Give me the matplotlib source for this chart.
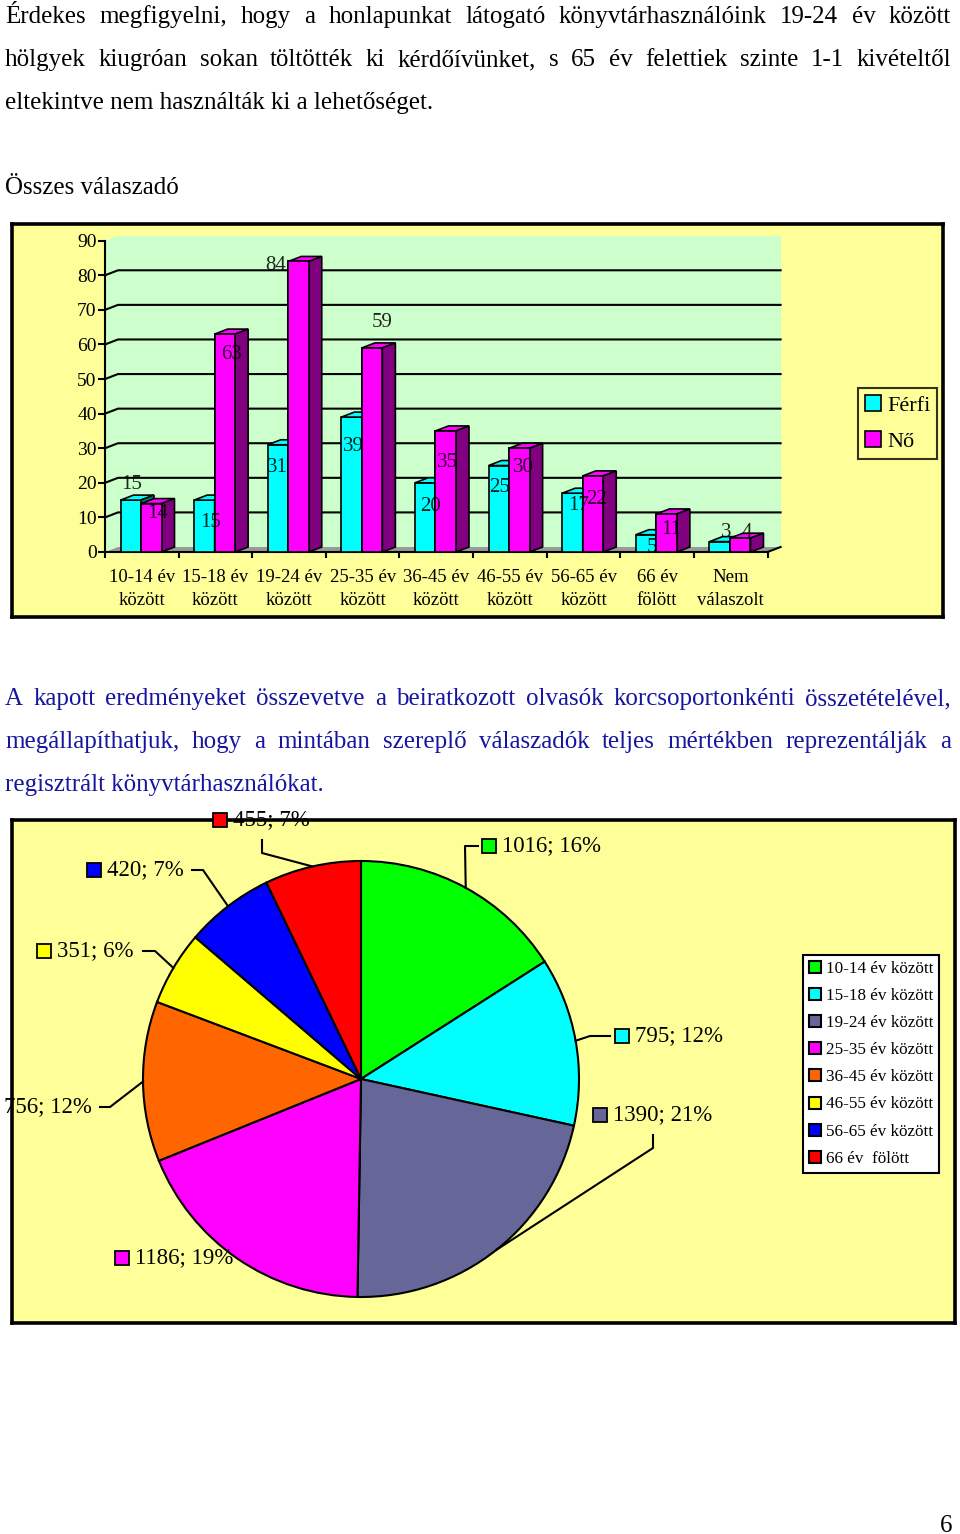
import numpy as np
import matplotlib
matplotlib.use('Agg')
import matplotlib.pyplot as plt
from matplotlib.patches import Polygon, Rectangle

# page size in pixels
W, H = 960, 1534
SERIF = 'Liberation Serif'
plt.rcParams['font.family'] = [SERIF, 'DejaVu Serif']

# ---- data ----
age_groups = ['10-14 év\nközött', '15-18 év\nközött', '19-24 év\nközött', '25-35 év\nközött',
              '36-45 év\nközött', '46-55 év\nközött', '56-65 év\nközött', '66 év\nfölött',
              'Nem\nválaszolt']
ferfi = [15, 15, 31, 39, 20, 25, 17, 5, 3]
no = [14, 63, 84, 59, 35, 30, 22, 11, 4]

pie_labels = ['10-14 év között', '15-18 év között', '19-24 év között', '25-35 év között',
              '36-45 év között', '46-55 év között', '56-65 év között', '66 év  fölött']
pie_values = [1016, 795, 1390, 1186, 756, 351, 420, 455]
pie_pct = [16, 12, 21, 19, 12, 6, 7, 7]
pie_colors = ['#00FF00', '#00FFFF', '#666699', '#FF00FF', '#FF6600', '#FFFF00', '#0000FF', '#FF0000']

para1 = ["Érdekes megfigyelni, hogy a honlapunkat látogató könyvtárhasználóink 19-24 év között",
         "hölgyek kiugróan sokan töltötték ki kérdőívünket, s 65 év felettiek szinte 1-1 kivételtől",
         "eltekintve nem használták ki a lehetőséget."]
para2 = ["A kapott eredményeket összevetve a beiratkozott olvasók korcsoportonkénti összetételével,",
         "megállapíthatjuk, hogy a mintában szereplő válaszadók teljes mértékben reprezentálják a",
         "regisztrált könyvtárhasználókat."]

# label offsets (pixels from bar top centre), copied from the layout of the original
f_off = [(1, -16), (6, 22), (-1, 23), (2, 29), (5, 24), (1, 22), (6, 12), (6, 13), (6, -9)]
n_off = [(6, 10), (7, 20), (-23, 4), (10, -25), (2, 32), (4, 19), (4, 24), (5, 16), (7, -6)]


def fx(x):
    return x / W


def fy(y):
    return 1 - y / H


fig = plt.figure(figsize=(W / 100, H / 100), dpi=100)
fig.patch.set_facecolor('white')
renderer = fig.canvas.get_renderer()


def justified(lines, x0, x1, y0, step, color, size=18):
    for k, line in enumerate(lines):
        yb = fy(y0 + k * step)
        words = line.split(' ')
        last = k == len(lines) - 1
        if last:
            fig.text(fx(x0), yb, line, fontsize=size, color=color, va='baseline')
            continue
        objs = [fig.text(0, yb, w, fontsize=size, color=color, va='baseline') for w in words]
        widths = [o.get_window_extent(renderer).width for o in objs]
        gap = (x1 - x0 - sum(widths)) / (len(words) - 1)
        x = x0
        for o, wd in zip(objs, widths):
            o.set_x(fx(x))
            x += wd + gap


justified(para1, 5, 951, 23, 43, 'black')
fig.text(fx(5), fy(194), 'Összes válaszadó', fontsize=18, va='baseline')
justified(para2, 5, 951, 705, 43, '#1515A0')
fig.text(fx(952), fy(1532), '6', fontsize=18, va='baseline', ha='right')


def frame(x0, y0, x1, y1):
    a = fig.add_axes([fx(x0), fy(y1), (x1 - x0) / W, (y1 - y0) / H], zorder=0)
    a.set_facecolor('#FFFF99')
    a.set_xticks([])
    a.set_yticks([])
    for s in a.spines.values():
        s.set_linewidth(2.6)
    return a


# ---- 3D-like clustered column chart ----
frame(12, 224, 943, 617)
ax = fig.add_axes([fx(105), fy(552), (767.6 - 105) / W, (552 - 240.7) / H], zorder=1)
ax.set_facecolor('none')
ax.set_xlim(0, 9)
ax.set_ylim(0, 90)
upx = 9 / (767.6 - 105)     # data units per pixel, x
upy = 90 / (552 - 240.7)    # data units per pixel, y
DX, DY = 13 * upx, 5 * upy

ax.add_patch(Polygon([(DX, DY), (9 + DX, DY), (9 + DX, 90 + DY), (DX, 90 + DY)],
                     closed=True, fc='#CCFFCC', ec='none', zorder=0, clip_on=False))
ax.add_patch(Polygon([(0, 0), (DX, DY), (DX, 90 + DY), (0, 90)],
                     closed=True, fc='#CCFFCC', ec='none', zorder=0, clip_on=False))
ax.add_patch(Polygon([(0, 0), (9, 0), (9 + DX, DY), (DX, DY)],
                     closed=True, fc='#999999', ec='none', zorder=1, clip_on=False))
ax.plot([9, 9 + DX], [0, DY], color='black', lw=1.5, clip_on=False, zorder=2)
for v in range(10, 90, 10):
    ax.plot([0, DX, 9 + DX], [v, v + DY, v + DY], color='black', lw=1.5, clip_on=False, zorder=1)

x = np.arange(len(age_groups))
bw = 20.5 * upx
off = 15.5 * upx
series = [(ferfi, off, '#00FFFF', '#00FFFF', '#008080', f_off),
          (no, off + bw, '#FF00FF', '#FF00FF', '#800080', n_off)]
handles = []
for vals, o, front, top, side, loffs in series:
    b = ax.bar(x + o, vals, bw, align='edge', color=front, edgecolor='black', lw=1.2, zorder=3)
    handles.append(b)
for i in range(len(x)):
    for vals, o, front, top, side, loffs in series:
        x0 = x[i] + o
        v = vals[i]
        ax.add_patch(Polygon([(x0, v), (x0 + bw, v), (x0 + bw + DX, v + DY), (x0 + DX, v + DY)],
                             closed=True, fc=top, ec='black', lw=1.2, zorder=4, clip_on=False))
        ax.add_patch(Polygon([(x0 + bw, 0), (x0 + bw + DX, DY), (x0 + bw + DX, v + DY), (x0 + bw, v)],
                             closed=True, fc=side, ec='black', lw=1.2, zorder=4, clip_on=False))
    # redraw the women's front over the men's side face
    ax.add_patch(Rectangle((x[i] + off + bw, 0), bw, no[i], fc='#FF00FF', ec='black', lw=1.2, zorder=5))
for vals, o, front, top, side, loffs in series:
    for i, v in enumerate(vals):
        ax.annotate(str(v), (x[i] + o + bw / 2, v), xytext=(loffs[i][0], -loffs[i][1]),
                    textcoords='offset pixels', ha='center', va='center', fontsize=15,
                    color='black', alpha=0.85, zorder=6, annotation_clip=False)

for s in ['top', 'right']:
    ax.spines[s].set_visible(False)
for s in ['left', 'bottom']:
    ax.spines[s].set_linewidth(1.5)
    ax.spines[s].set_zorder(2)
ax.set_yticks(range(0, 91, 10))
ax.tick_params(axis='y', direction='out', length=5, width=1.5, labelsize=14, pad=1)
ax.set_xticks(range(0, 10))
ax.set_xticklabels([])
ax.set_xticks(x + 0.5, minor=True)
ax.set_xticklabels(age_groups, minor=True, fontsize=13.5, linespacing=1.45)
ax.tick_params(axis='x', which='major', direction='out', length=4.5, width=1.5)
ax.tick_params(axis='x', which='minor', length=0, pad=12)

leg = fig.legend([handles[0], handles[1]], ['Férfi', 'Nő'], loc='upper left',
                 bbox_to_anchor=(fx(858), fy(388)), bbox_transform=fig.transFigure,
                 fontsize=16, frameon=True, fancybox=False, borderaxespad=0,
                 handlelength=0.75, handleheight=0.75, handletextpad=0.25,
                 labelspacing=0.7, borderpad=0.3)
leg.get_frame().set_edgecolor('black')
leg.get_frame().set_linewidth(1.5)
leg.get_frame().set_facecolor('#FFFF99')
leg.set_zorder(5)

# ---- pie chart ----
frame(12, 820, 955, 1323)
CX, CY, R = 361, 1079, 218
ax2 = fig.add_axes([fx(CX - R), fy(CY + R), 2 * R / W, 2 * R / H], zorder=1)
wedges, _ = ax2.pie(pie_values, colors=pie_colors, startangle=90, counterclock=False,
                    wedgeprops=dict(edgecolor='black', linewidth=1.5))
ax2.set_xlim(-1, 1)
ax2.set_ylim(-1, 1)
ax2.set_aspect('auto')
ax2.axis('off')


def p2d(px, py):
    return (px - CX) / R, (CY - py) / R


# label layout (pixels): marker centre, leader elbow, leader tail
lab_pos = [(489, 846), (622, 1036), (600, 1115), (122, 1258), (-9, 1107), (44, 951), (94, 870), (220, 820)]
elbows = [((465, 846), (478, 846)), ((590, 1036), (610, 1036)), ((653, 1148), (653, 1135)), None,
          ((110, 1107), (100, 1107)), ((155, 951), (143, 951)), ((203, 870), (192, 870)),
          ((262, 853), (262, 840))]

for w, v, p, col, (mx, my), el in zip(wedges, pie_values, pie_pct, pie_colors, lab_pos, elbows):
    mid = np.deg2rad((w.theta1 + w.theta2) / 2)
    if el is not None:
        pts = [(np.cos(mid), np.sin(mid)), p2d(*el[0]), p2d(*el[1])]
        ax2.plot([q[0] for q in pts], [q[1] for q in pts], color='black', lw=1.5,
                 clip_on=False, zorder=5)
    ax2.plot(*p2d(mx, my), marker='s', ms=10, mfc=col, mec='black', mew=1.3,
             clip_on=False, zorder=6)
    ax2.text(*p2d(mx + 13, my), f'{v}; {p}%', fontsize=16.5, ha='left', va='center',
             clip_on=False, zorder=6)

leg2 = ax2.legend(wedges, pie_labels, loc='upper left', bbox_to_anchor=(fx(803), fy(955)),
                  bbox_transform=fig.transFigure, fontsize=12.3, frameon=True, fancybox=False,
                  borderaxespad=0, handlelength=0.7, handleheight=0.7, handletextpad=0.3,
                  labelspacing=0.65, borderpad=0.35, framealpha=1)
leg2.get_frame().set_edgecolor('black')
leg2.get_frame().set_linewidth(1.5)

fig.savefig('out.png', dpi=100)
